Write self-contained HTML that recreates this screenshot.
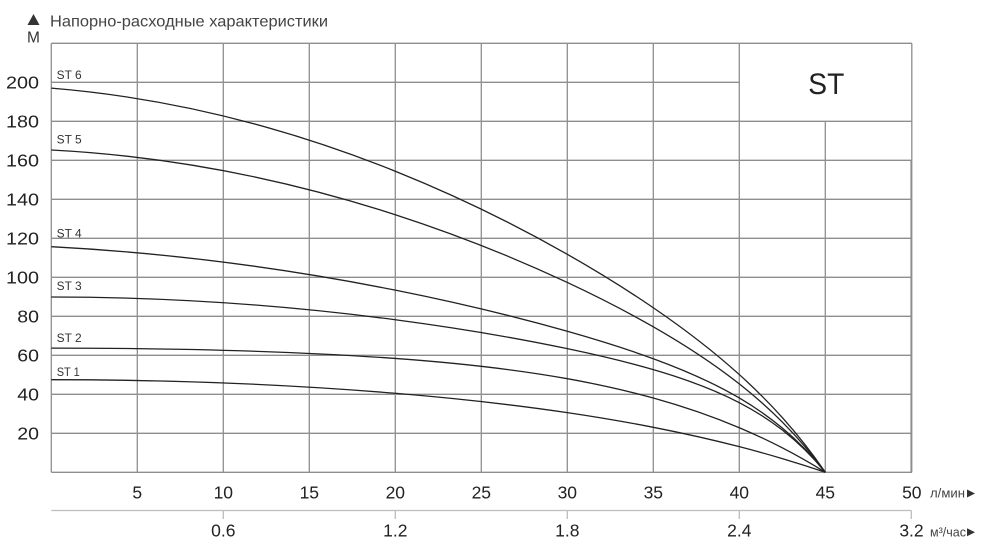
<!DOCTYPE html>
<html>
<head>
<meta charset="utf-8">
<style>
html,body{margin:0;padding:0;background:#fff;}
svg{display:block;}
text{font-family:"Liberation Sans","DejaVu Sans",sans-serif;}
</style>
</head>
<body>
<svg width="983" height="552" viewBox="0 0 983 552" xmlns="http://www.w3.org/2000/svg">
<rect width="983" height="552" fill="#fff"/>
<!-- title -->
<polygon points="27.5,25 39.5,25 33.5,14" fill="#333"/>
<text x="33.5" y="42.7" font-size="15.5" fill="#333" text-anchor="middle">М</text>
<text x="50" y="26.7" font-size="16" fill="#444" textLength="278" lengthAdjust="spacingAndGlyphs">Напорно-расходные характеристики</text>

<!-- grid -->
<g stroke="#8e8e8e" stroke-width="1.3" fill="none">
  <line x1="51.3" y1="43.3" x2="912" y2="43.3"/>
  <line x1="51.3" y1="82.3" x2="739.3" y2="82.3"/>
  <line x1="51.3" y1="121.3" x2="912" y2="121.3"/>
  <line x1="51.3" y1="160.3" x2="912" y2="160.3"/>
  <line x1="51.3" y1="199.3" x2="912" y2="199.3"/>
  <line x1="51.3" y1="238.3" x2="912" y2="238.3"/>
  <line x1="51.3" y1="277.3" x2="912" y2="277.3"/>
  <line x1="51.3" y1="316.3" x2="912" y2="316.3"/>
  <line x1="51.3" y1="355.3" x2="912" y2="355.3"/>
  <line x1="51.3" y1="394.3" x2="912" y2="394.3"/>
  <line x1="51.3" y1="433.3" x2="912" y2="433.3"/>
  <line x1="51.3" y1="472.3" x2="912" y2="472.3"/>
  <line x1="51.3" y1="43.3" x2="51.3" y2="472.3"/>
  <line x1="137.3" y1="43.3" x2="137.3" y2="472.3"/>
  <line x1="223.3" y1="43.3" x2="223.3" y2="472.3"/>
  <line x1="309.3" y1="43.3" x2="309.3" y2="472.3"/>
  <line x1="395.3" y1="43.3" x2="395.3" y2="472.3"/>
  <line x1="481.3" y1="43.3" x2="481.3" y2="472.3"/>
  <line x1="567.3" y1="43.3" x2="567.3" y2="472.3"/>
  <line x1="653.3" y1="43.3" x2="653.3" y2="472.3"/>
  <line x1="739.3" y1="43.3" x2="739.3" y2="472.3"/>
  <line x1="825.3" y1="121.3" x2="825.3" y2="472.3"/>
  <line x1="911.8" y1="43.3" x2="911.8" y2="160.3"/>
  <line x1="911.4" y1="160.3" x2="911.4" y2="472.3" stroke-width="2"/>
</g>

<!-- ST box label -->
<text x="808.3" y="94" font-size="30" fill="#222" textLength="36" lengthAdjust="spacingAndGlyphs">ST</text>

<!-- y labels -->
<g font-size="17.5" fill="#222" text-anchor="end">
  <text x="39" y="88.6" textLength="33" lengthAdjust="spacingAndGlyphs">200</text>
  <text x="39" y="127.6" textLength="33" lengthAdjust="spacingAndGlyphs">180</text>
  <text x="39" y="166.6" textLength="33" lengthAdjust="spacingAndGlyphs">160</text>
  <text x="39" y="205.6" textLength="33" lengthAdjust="spacingAndGlyphs">140</text>
  <text x="39" y="244.6" textLength="33" lengthAdjust="spacingAndGlyphs">120</text>
  <text x="39" y="283.6" textLength="33" lengthAdjust="spacingAndGlyphs">100</text>
  <text x="39" y="322.6" textLength="21.7" lengthAdjust="spacingAndGlyphs">80</text>
  <text x="39" y="361.6" textLength="21.7" lengthAdjust="spacingAndGlyphs">60</text>
  <text x="39" y="400.6" textLength="21.7" lengthAdjust="spacingAndGlyphs">40</text>
  <text x="39" y="439.6" textLength="21.7" lengthAdjust="spacingAndGlyphs">20</text>
</g>

<!-- x labels l/min -->
<g font-size="17.5" fill="#222" text-anchor="middle">
  <text x="137.3" y="498.7">5</text>
  <text x="223.3" y="498.7">10</text>
  <text x="309.3" y="498.7">15</text>
  <text x="395.3" y="498.7">20</text>
  <text x="481.3" y="498.7">25</text>
  <text x="567.3" y="498.7">30</text>
  <text x="653.3" y="498.7">35</text>
  <text x="739.3" y="498.7">40</text>
  <text x="825.3" y="498.7">45</text>
  <text x="911.8" y="498.7">50</text>
</g>
<text x="930" y="497.5" font-size="12.5" fill="#444" textLength="35" lengthAdjust="spacingAndGlyphs">л/мин</text>
<polygon points="967,489.5 975,493.5 967,497.5" fill="#333"/>

<!-- second axis -->
<g stroke="#bdbdbd" stroke-width="1.3">
  <line x1="51.3" y1="510.5" x2="911.3" y2="510.5"/>
  <line x1="223.3" y1="510.5" x2="223.3" y2="519"/>
  <line x1="395.3" y1="510.5" x2="395.3" y2="519"/>
  <line x1="567.3" y1="510.5" x2="567.3" y2="519"/>
  <line x1="739.3" y1="510.5" x2="739.3" y2="519"/>
  <line x1="911.3" y1="510.5" x2="911.3" y2="519"/>
</g>
<g font-size="17.5" fill="#222" text-anchor="middle">
  <text x="223.3" y="536.7">0.6</text>
  <text x="395.3" y="536.7">1.2</text>
  <text x="567.3" y="536.7">1.8</text>
  <text x="739.3" y="536.7">2.4</text>
  <text x="911.5" y="536.7">3.2</text>
</g>
<text x="930" y="536.7" font-size="12.5" fill="#444" textLength="36" lengthAdjust="spacingAndGlyphs">м³/час</text>
<polygon points="967,528.3 975,532.3 967,536.3" fill="#333"/>

<!-- curves -->
<g fill="none" stroke="#222" stroke-width="1.3">
  <path d="M51.3,88.15 C165.97,97.52 280.63,125.21 395.3,171.22 C452.63,194.23 510,221.69 567.3,254.29 C595.97,270.59 624.63,288.16 653.3,307.73 C681.97,327.3 710.63,348.71 739.3,374.57 C753.63,387.5 767.97,401.58 782.3,417.54 C796.63,433.5 810.97,451.34 825.3,472.3"/>
  <path d="M51.3,149.97 C165.97,155.97 280.63,177.53 395.3,214.7 C452.63,233.28 510,255.64 567.3,282.47 C595.97,295.89 624.63,310.42 653.3,326.82 C681.97,343.22 710.63,361.34 739.3,383.92 C753.63,395.21 767.97,407.65 782.3,422.03 C796.63,436.41 810.97,452.74 825.3,472.3"/>
  <path d="M51.3,246.7 C165.97,252.76 280.63,267.24 395.3,290.17 C452.63,301.64 510,315.05 567.3,331.3 C595.97,339.43 624.63,348.25 653.3,358.73 C681.97,369.21 710.63,381.14 739.3,397.98 C753.63,406.4 767.97,416.1 782.3,428.05 C796.63,440.0 810.97,454.2 825.3,472.3"/>
  <path d="M51.3,297.0 C165.97,297.0 280.63,304.57 395.3,319.76 C452.63,327.35 510,336.67 567.3,348.67 C595.97,354.67 624.63,361.32 653.3,369.64 C681.97,377.96 710.63,387.76 739.3,402.66 C753.63,410.11 767.97,418.89 782.3,430.04 C796.63,441.19 810.97,454.68 825.3,472.3"/>
  <path d="M51.3,348.1 C165.97,348.1 280.63,350.19 395.3,358.46 C452.63,362.6 510,368.45 567.3,378.7 C595.97,383.83 624.63,390.08 653.3,398.04 C681.97,406.0 710.63,415.64 739.3,427.73 C753.63,433.78 767.97,440.43 782.3,447.82 C796.63,455.21 810.97,463.33 825.3,472.3"/>
  <path d="M51.3,379.7 C165.97,379.7 280.63,383.77 395.3,393.26 C452.63,398.01 510,404.16 567.3,412.63 C595.97,416.87 624.63,421.7 653.3,427.3 C681.97,432.9 710.63,439.26 739.3,446.67 C753.63,450.37 767.97,454.34 782.3,458.6 C796.63,462.86 810.97,467.41 825.3,472.3"/>
</g>

<!-- curve labels -->
<g font-size="11.5" fill="#333">
  <text x="56.7" y="79" textLength="25" lengthAdjust="spacingAndGlyphs">ST 6</text>
  <text x="56.7" y="143.3" textLength="25" lengthAdjust="spacingAndGlyphs">ST 5</text>
  <text x="56.7" y="237.7" textLength="25" lengthAdjust="spacingAndGlyphs">ST 4</text>
  <text x="56.7" y="290" textLength="25" lengthAdjust="spacingAndGlyphs">ST 3</text>
  <text x="56.7" y="342" textLength="25" lengthAdjust="spacingAndGlyphs">ST 2</text>
  <text x="56.7" y="376" textLength="23" lengthAdjust="spacingAndGlyphs">ST 1</text>
</g>
</svg>
</body>
</html>
